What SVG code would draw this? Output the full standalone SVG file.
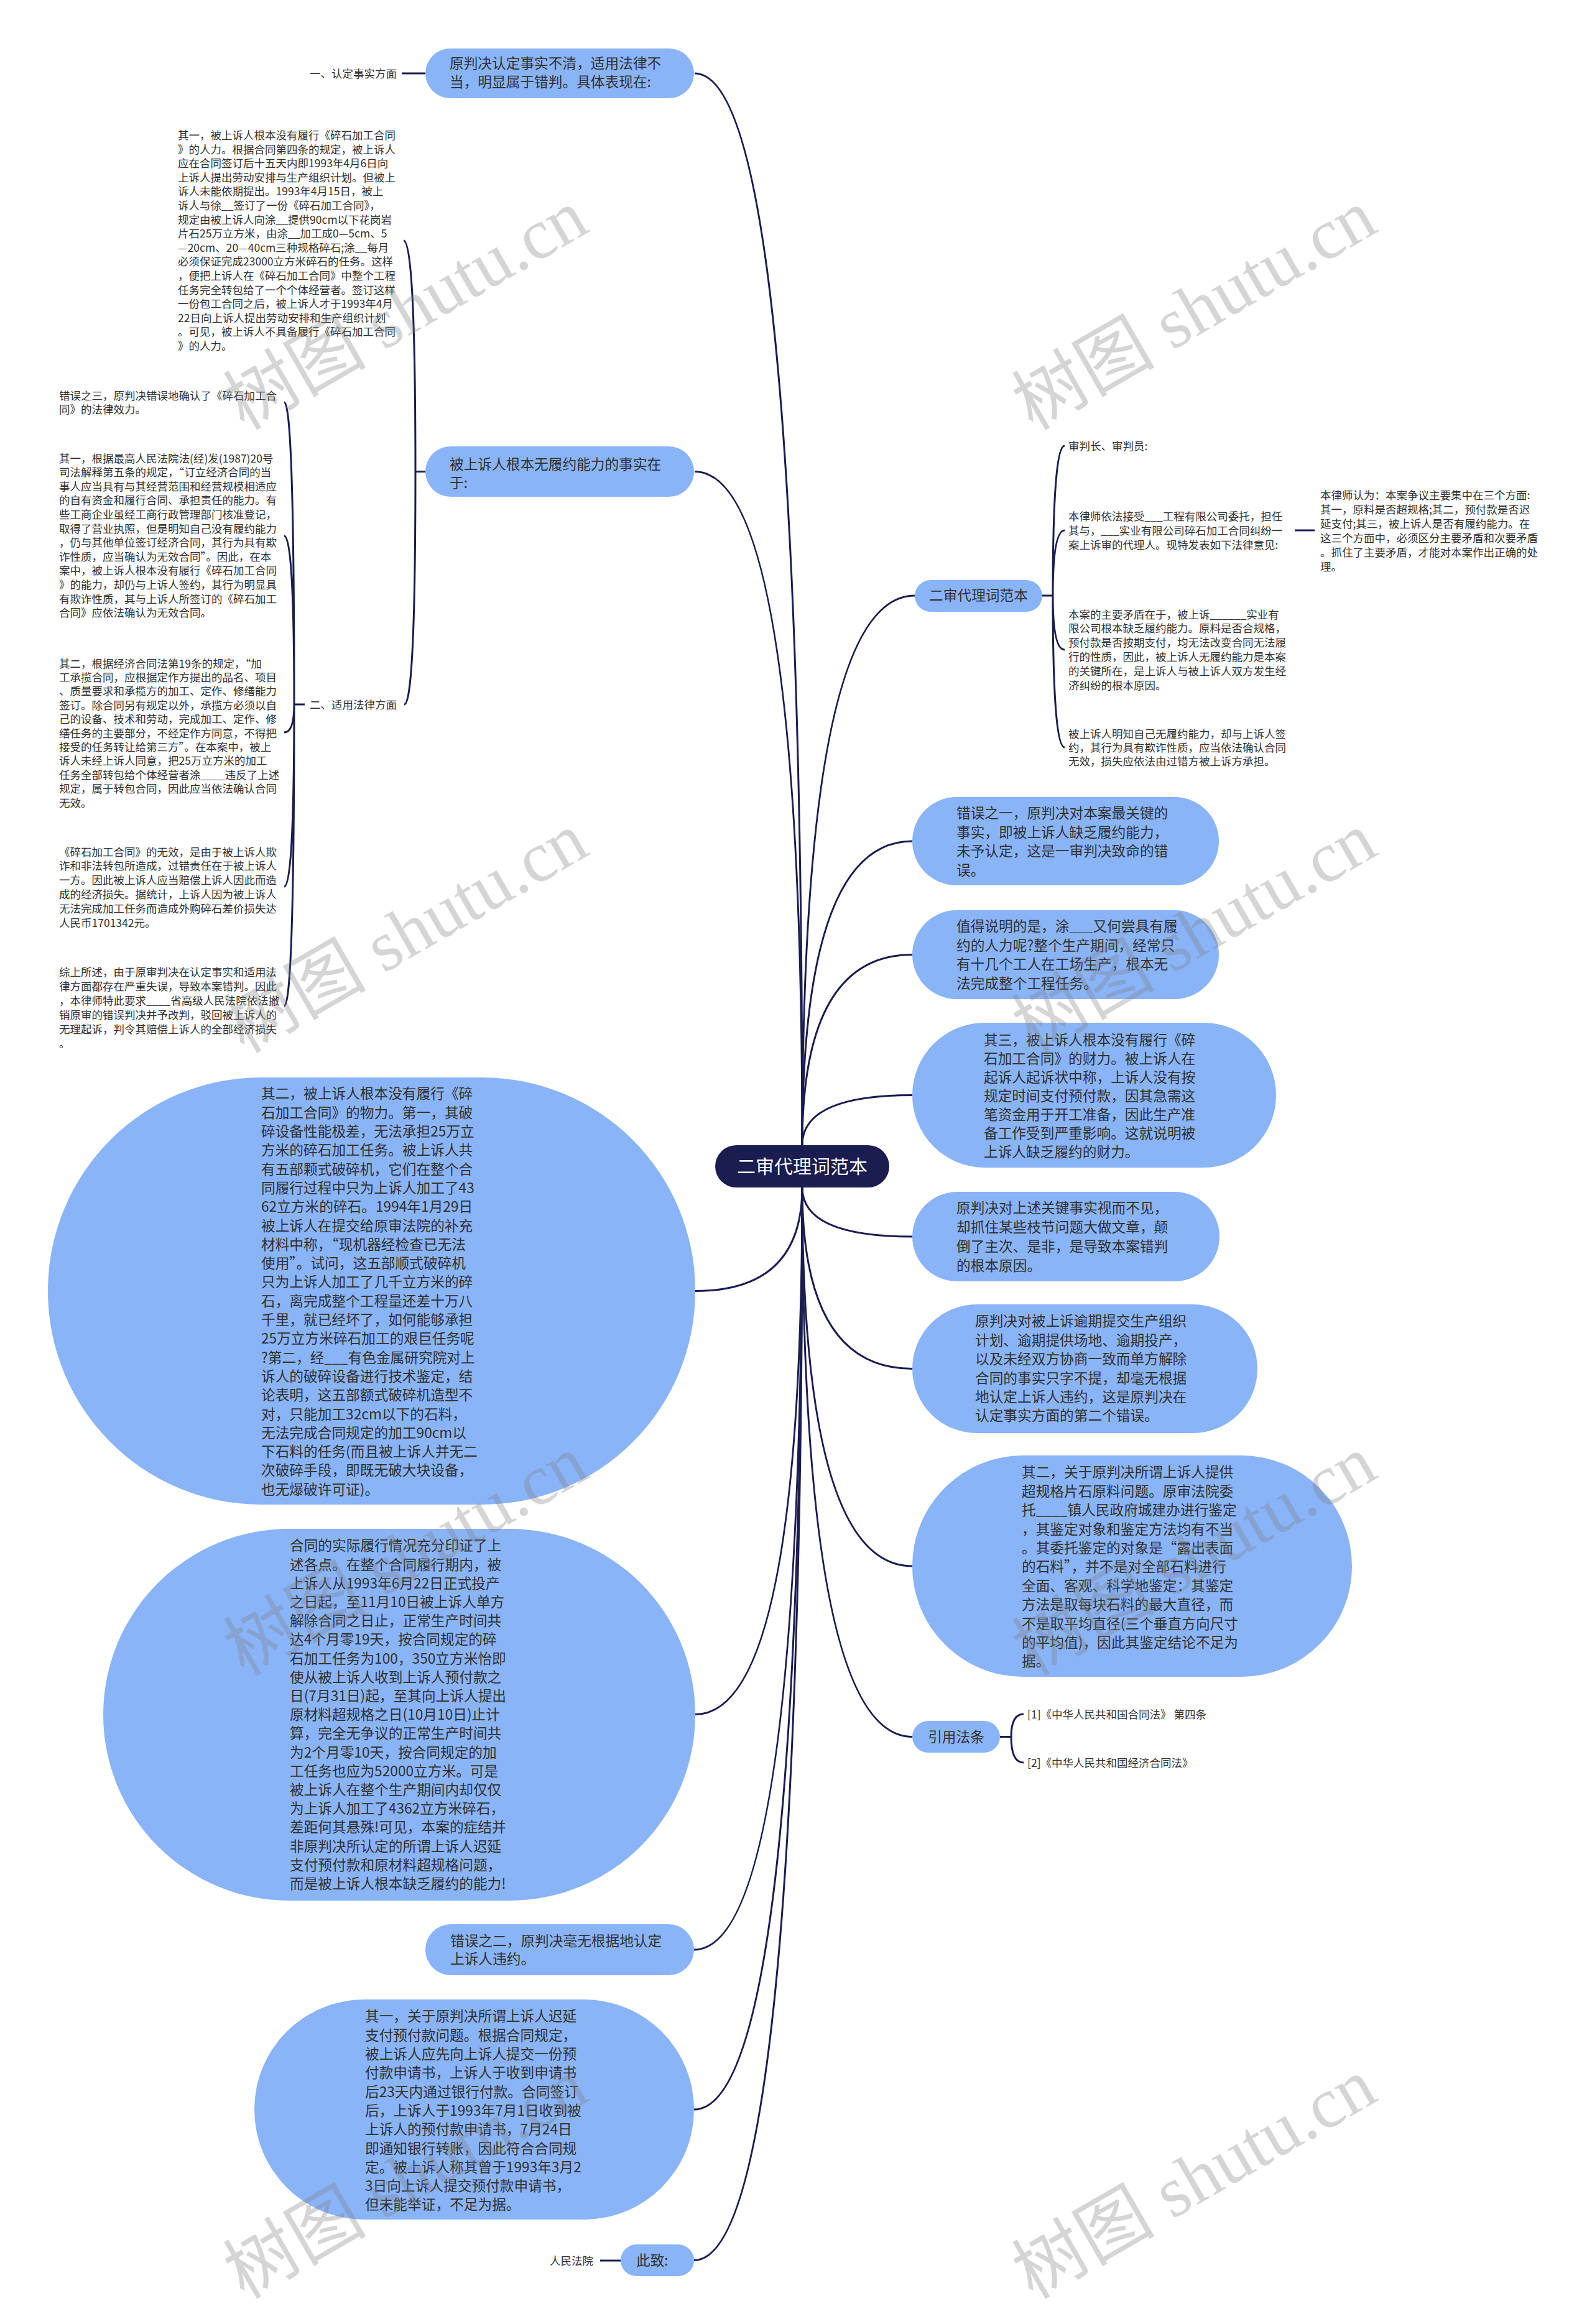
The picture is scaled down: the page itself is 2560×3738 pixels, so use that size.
<svg xmlns="http://www.w3.org/2000/svg" width="2560" height="3738" viewBox="0 0 2560 3738">
<style>
.c{fill:none;stroke:#1b1c50;stroke-width:3}
.n{fill:#8ab4f8}
.root{fill:#1b1c50}
.nt{font-family:"Noto Sans CJK SC","Liberation Sans",sans-serif;font-size:22.7px;fill:#303030}
.lt{font-family:"Noto Sans CJK SC","Liberation Sans",sans-serif;font-size:17.5px;fill:#303030}
.rt{font-family:"Noto Sans CJK SC","Liberation Sans",sans-serif;font-size:30px;fill:#ffffff}
.wm{font-family:"Liberation Serif","Noto Sans CJK SC",serif;font-size:115px;fill:#808080;fill-opacity:0.33}
</style>
<rect width="2560" height="3738" fill="#ffffff"/>
<g id="connectors">
<path class="c" d="M1290 1842 Q1290 118 1117 118"/>
<path class="c" d="M1290 1842 Q1290 758.5 1117 758.5"/>
<path class="c" d="M1290 1842 Q1290 958 1471 958"/>
<path class="c" d="M1290 1842 Q1290 1353 1467 1353"/>
<path class="c" d="M1290 1842 Q1290 1535.5 1467 1535.5"/>
<path class="c" d="M1290 1842 Q1290 1761.5 1467 1761.5"/>
<path class="c" d="M1290 1910 Q1290 1989 1467 1989"/>
<path class="c" d="M1290 1910 Q1290 2201.5 1467 2201.5"/>
<path class="c" d="M1290 1910 Q1290 2519 1467 2519"/>
<path class="c" d="M1290 1910 Q1290 2793.5 1467 2793.5"/>
<path class="c" d="M1290 1910 Q1290 2076.5 1118 2076.5"/>
<path class="c" d="M1290 1910 Q1290 2757.5 1118 2757.5"/>
<path class="c" d="M1290 1910 Q1290 3136 1116 3136"/>
<path class="c" d="M1290 1910 Q1290 3393 1116 3393"/>
<path class="c" d="M1290 1910 Q1290 3635.5 1116 3635.5"/>
<path class="c" d="M684 118 L646 118"/>
<path class="c" d="M684 758.5 L668 758.5 M668 758.5 Q668 387 649 387 M668 758.5 Q668 1133 650 1133"/>
<path class="c" d="M490 1133 L473 1133 M473 1133 Q473 647 457 647 M473 1133 Q473 862 457 862 M473 1133 Q473 1178 457 1178 M473 1133 Q473 1426 457 1426 M473 1133 Q473 1618 457 1618"/>
<path class="c" d="M1676 958 L1693 958 M1693 958 Q1693 717 1712 717 M1693 958 Q1693 853 1712 853 M1693 958 Q1693 1045 1712 1045 M1693 958 Q1693 1202 1712 1202"/>
<path class="c" d="M2082 853 L2114 853"/>
<path class="c" d="M1608 2793.5 L1626 2793.5 M1626 2793.5 Q1626 2757 1646 2757 M1626 2793.5 Q1626 2835 1646 2835"/>
<path class="c" d="M998 3636 L965 3636"/>
</g>
<g id="root">
<rect class="root" x="1150" y="1842" width="280" height="68" rx="34"/>
<text class="rt" x="1290" y="1887" text-anchor="middle">二审代理词范本</text>
</g>
<g id="node1">
<rect class="n" x="684" y="78" width="432" height="80" rx="40"/>
<text class="nt"><tspan x="723" y="110.4">原判决认定事实不清，适用法律不</tspan><tspan x="723" y="140.4">当，明显属于错判。具体表现在:</tspan></text>
</g>
<g id="leaf-1a">
<text class="lt" x="638" y="124.5" text-anchor="end">一、认定事实方面</text>
</g>
<g id="node2">
<rect class="n" x="684" y="718" width="432" height="81" rx="40.5"/>
<text class="nt"><tspan x="723" y="755.4">被上诉人根本无履约能力的事实在</tspan><tspan x="723" y="785.4">于:</tspan></text>
</g>
<g id="leaf-2a">
<text class="lt">
<tspan x="286" y="224">其一，被上诉人根本没有履行《碎石加工合同</tspan>
<tspan x="286" y="246.6">》的人力。根据合同第四条的规定，被上诉人</tspan>
<tspan x="286" y="269.2">应在合同签订后十五天内即1993年4月6日向</tspan>
<tspan x="286" y="291.8">上诉人提出劳动安排与生产组织计划。但被上</tspan>
<tspan x="286" y="314.4">诉人未能依期提出。1993年4月15日，被上</tspan>
<tspan x="286" y="337">诉人与徐__签订了一份《碎石加工合同》，</tspan>
<tspan x="286" y="359.6">规定由被上诉人向涂__提供90cm以下花岗岩</tspan>
<tspan x="286" y="382.2">片石25万立方米，由涂__加工成0—5cm、5</tspan>
<tspan x="286" y="404.8">—20cm、20—40cm三种规格碎石;涂__每月</tspan>
<tspan x="286" y="427.4">必须保证完成23000立方米碎石的任务。这样</tspan>
<tspan x="286" y="450">，便把上诉人在《碎石加工合同》中整个工程</tspan>
<tspan x="286" y="472.6">任务完全转包给了一个个体经营者。签订这样</tspan>
<tspan x="286" y="495.2">一份包工合同之后，被上诉人才于1993年4月</tspan>
<tspan x="286" y="517.8">22日向上诉人提出劳动安排和生产组织计划</tspan>
<tspan x="286" y="540.4">。可见，被上诉人不具备履行《碎石加工合同</tspan>
<tspan x="286" y="563">》的人力。</tspan>
</text>
</g>
<g id="leaf-2b">
<text class="lt" x="638" y="1139.5" text-anchor="end">二、适用法律方面</text>
</g>
<g id="leaf-2b1">
<text class="lt"><tspan x="95" y="642.5">错误之三，原判决错误地确认了《碎石加工合</tspan><tspan x="95" y="665.1">同》的法律效力。</tspan></text>
</g>
<g id="leaf-2b2">
<text class="lt">
<tspan x="95" y="743.5">其一，根据最高人民法院法(经)发(1987)20号</tspan>
<tspan x="95" y="766.1">司法解释第五条的规定，“订立经济合同的当</tspan>
<tspan x="95" y="788.7">事人应当具有与其经营范围和经营规模相适应</tspan>
<tspan x="95" y="811.3">的自有资金和履行合同、承担责任的能力。有</tspan>
<tspan x="95" y="833.9">些工商企业虽经工商行政管理部门核准登记，</tspan>
<tspan x="95" y="856.5">取得了营业执照，但是明知自己没有履约能力</tspan>
<tspan x="95" y="879.1">，仍与其他单位签订经济合同，其行为具有欺</tspan>
<tspan x="95" y="901.7">诈性质，应当确认为无效合同”。因此，在本</tspan>
<tspan x="95" y="924.3">案中，被上诉人根本没有履行《碎石加工合同</tspan>
<tspan x="95" y="946.9">》的能力，却仍与上诉人签约，其行为明显具</tspan>
<tspan x="95" y="969.5">有欺诈性质，其与上诉人所签订的《碎石加工</tspan>
<tspan x="95" y="992.1">合同》应依法确认为无效合同。</tspan>
</text>
</g>
<g id="leaf-2b3">
<text class="lt">
<tspan x="95" y="1073.5">其二，根据经济合同法第19条的规定，“加</tspan>
<tspan x="95" y="1095.9">工承揽合同，应根据定作方提出的品名、项目</tspan>
<tspan x="95" y="1118.3">、质量要求和承揽方的加工、定作、修缮能力</tspan>
<tspan x="95" y="1140.7">签订。除合同另有规定以外，承揽方必须以自</tspan>
<tspan x="95" y="1163.1">己的设备、技术和劳动，完成加工、定作、修</tspan>
<tspan x="95" y="1185.5">缮任务的主要部分，不经定作方同意，不得把</tspan>
<tspan x="95" y="1207.9">接受的任务转让给第三方”。在本案中，被上</tspan>
<tspan x="95" y="1230.3">诉人未经上诉人同意，把25万立方米的加工</tspan>
<tspan x="95" y="1252.7">任务全部转包给个体经营者涂____违反了上述</tspan>
<tspan x="95" y="1275.1">规定，属于转包合同，因此应当依法确认合同</tspan>
<tspan x="95" y="1297.5">无效。</tspan>
</text>
</g>
<g id="leaf-2b4">
<text class="lt">
<tspan x="95" y="1376.5">《碎石加工合同》的无效，是由于被上诉人欺</tspan>
<tspan x="95" y="1399.3">诈和非法转包所造成，过错责任在于被上诉人</tspan>
<tspan x="95" y="1422.1">一方。因此被上诉人应当赔偿上诉人因此而造</tspan>
<tspan x="95" y="1444.9">成的经济损失。据统计，上诉人因为被上诉人</tspan>
<tspan x="95" y="1467.7">无法完成加工任务而造成外购碎石差价损失达</tspan>
<tspan x="95" y="1490.5">人民币1701342元。</tspan>
</text>
</g>
<g id="leaf-2b5">
<text class="lt">
<tspan x="95" y="1569.5">综上所述，由于原审判决在认定事实和适用法</tspan>
<tspan x="95" y="1592.5">律方面都存在严重失误，导致本案错判。因此</tspan>
<tspan x="95" y="1615.5">，本律师特此要求____省高级人民法院依法撤</tspan>
<tspan x="95" y="1638.5">销原审的错误判决并予改判，驳回被上诉人的</tspan>
<tspan x="95" y="1661.5">无理起诉，判令其赔偿上诉人的全部经济损失</tspan>
<tspan x="95" y="1684.5">。</tspan>
</text>
</g>
<g id="nodeA">
<rect class="n" x="1471" y="933" width="205" height="51" rx="25.5"/>
<text class="nt" x="1573.5" y="966.4" text-anchor="middle">二审代理词范本</text>
</g>
<g id="leaf-A1"><text class="lt" x="1718" y="723.5">审判长、审判员:</text></g>
<g id="leaf-A2">
<text class="lt"><tspan x="1718" y="836.5">本律师依法接受___工程有限公司委托，担任</tspan><tspan x="1718" y="859.5">其与，___实业有限公司碎石加工合同纠纷一</tspan><tspan x="1718" y="882.5">案上诉审的代理人。现特发表如下法律意见:</tspan></text>
</g>
<g id="leaf-A2a">
<text class="lt">
<tspan x="2123" y="802.5">本律师认为：本案争议主要集中在三个方面:</tspan>
<tspan x="2123" y="825.5">其一，原料是否超规格;其二，预付款是否迟</tspan>
<tspan x="2123" y="848.5">延支付;其三，被上诉人是否有履约能力。在</tspan>
<tspan x="2123" y="871.5">这三个方面中，必须区分主要矛盾和次要矛盾</tspan>
<tspan x="2123" y="894.5">。抓住了主要矛盾，才能对本案作出正确的处</tspan>
<tspan x="2123" y="917.5">理。</tspan>
</text>
</g>
<g id="leaf-A3">
<text class="lt">
<tspan x="1718" y="994.5">本案的主要矛盾在于，被上诉______实业有</tspan>
<tspan x="1718" y="1017.3">限公司根本缺乏履约能力。原料是否合规格，</tspan>
<tspan x="1718" y="1040.1">预付款是否按期支付，均无法改变合同无法履</tspan>
<tspan x="1718" y="1062.9">行的性质，因此，被上诉人无履约能力是本案</tspan>
<tspan x="1718" y="1085.7">的关键所在，是上诉人与被上诉人双方发生经</tspan>
<tspan x="1718" y="1108.5">济纠纷的根本原因。</tspan>
</text>
</g>
<g id="leaf-A4">
<text class="lt"><tspan x="1718" y="1186.5">被上诉人明知自己无履约能力，却与上诉人签</tspan><tspan x="1718" y="1208.5">约，其行为具有欺诈性质，应当依法确认合同</tspan><tspan x="1718" y="1230.5">无效，损失应依法由过错方被上诉方承担。</tspan></text>
</g>
<g id="nodeB">
<rect class="n" x="1467" y="1282" width="493" height="142" rx="71"/>
<text class="nt"><tspan x="1538" y="1316.4">错误之一，原判决对本案最关键的</tspan><tspan x="1538" y="1346.9">事实，即被上诉人缺乏履约能力，</tspan><tspan x="1538" y="1377.4">未予认定，这是一审判决致命的错</tspan><tspan x="1538" y="1407.9">误。</tspan></text>
</g>
<g id="nodeC">
<rect class="n" x="1467" y="1464" width="493" height="143" rx="71.5"/>
<text class="nt"><tspan x="1538" y="1498.4">值得说明的是，涂___又何尝具有履</tspan><tspan x="1538" y="1528.9">约的人力呢?整个生产期间，经常只</tspan><tspan x="1538" y="1559.4">有十几个工人在工场生产，根本无</tspan><tspan x="1538" y="1589.9">法完成整个工程任务。</tspan></text>
</g>
<g id="nodeD">
<rect class="n" x="1467" y="1645" width="585" height="233" rx="116.5"/>
<text class="nt">
<tspan x="1582" y="1681.4">其三，被上诉人根本没有履行《碎</tspan>
<tspan x="1582" y="1711.4">石加工合同》的财力。被上诉人在</tspan>
<tspan x="1582" y="1741.4">起诉人起诉状中称，上诉人没有按</tspan>
<tspan x="1582" y="1771.4">规定时间支付预付款，因其急需这</tspan>
<tspan x="1582" y="1801.4">笔资金用于开工准备，因此生产准</tspan>
<tspan x="1582" y="1831.4">备工作受到严重影响。这就说明被</tspan>
<tspan x="1582" y="1861.4">上诉人缺乏履约的财力。</tspan>
</text>
</g>
<g id="nodeE">
<rect class="n" x="1467" y="1917" width="494" height="144" rx="72"/>
<text class="nt"><tspan x="1538" y="1951.4">原判决对上述关键事实视而不见，</tspan><tspan x="1538" y="1982.1">却抓住某些枝节问题大做文章，颠</tspan><tspan x="1538" y="2012.8">倒了主次、是非，是导致本案错判</tspan><tspan x="1538" y="2043.5">的根本原因。</tspan></text>
</g>
<g id="nodeF">
<rect class="n" x="1467" y="2098" width="555" height="207" rx="103.5"/>
<text class="nt">
<tspan x="1568" y="2133.4">原判决对被上诉逾期提交生产组织</tspan>
<tspan x="1568" y="2163.8">计划、逾期提供场地、逾期投产，</tspan>
<tspan x="1568" y="2194.2">以及未经双方协商一致而单方解除</tspan>
<tspan x="1568" y="2224.6">合同的事实只字不提，却毫无根据</tspan>
<tspan x="1568" y="2255">地认定上诉人违约，这是原判决在</tspan>
<tspan x="1568" y="2285.4">认定事实方面的第二个错误。</tspan>
</text>
</g>
<g id="nodeG">
<rect class="n" x="1467" y="2341" width="707" height="356" rx="178"/>
<text class="nt">
<tspan x="1643" y="2376.4">其二，关于原判决所谓上诉人提供</tspan>
<tspan x="1643" y="2406.8">超规格片石原料问题。原审法院委</tspan>
<tspan x="1643" y="2437.2">托____镇人民政府城建办进行鉴定</tspan>
<tspan x="1643" y="2467.6">，其鉴定对象和鉴定方法均有不当</tspan>
<tspan x="1643" y="2498">。其委托鉴定的对象是“露出表面</tspan>
<tspan x="1643" y="2528.4">的石料”，并不是对全部石料进行</tspan>
<tspan x="1643" y="2558.8">全面、客观、科学地鉴定：其鉴定</tspan>
<tspan x="1643" y="2589.2">方法是取每块石料的最大直径，而</tspan>
<tspan x="1643" y="2619.6">不是取平均直径(三个垂直方向尺寸</tspan>
<tspan x="1643" y="2650">的平均值)，因此其鉴定结论不足为</tspan>
<tspan x="1643" y="2680.4">据。</tspan>
</text>
</g>
<g id="nodeH">
<rect class="n" x="1467" y="2768" width="141" height="51" rx="25.5"/>
<text class="nt" x="1537.5" y="2801.9" text-anchor="middle">引用法条</text>
</g>
<g id="leaf-H1"><text class="lt" x="1652" y="2763.5">[1]《中华人民共和国合同法》 第四条</text></g>
<g id="leaf-H2"><text class="lt" x="1652" y="2841.5">[2]《中华人民共和国经济合同法》</text></g>
<g id="nodeI">
<rect class="n" x="77" y="1733" width="1041" height="687" rx="343"/>
<text class="nt">
<tspan x="420" y="1767.4">其二，被上诉人根本没有履行《碎</tspan>
<tspan x="420" y="1797.7">石加工合同》的物力。第一，其破</tspan>
<tspan x="420" y="1828">碎设备性能极差，无法承担25万立</tspan>
<tspan x="420" y="1858.3">方米的碎石加工任务。被上诉人共</tspan>
<tspan x="420" y="1888.6">有五部颗式破碎机，它们在整个合</tspan>
<tspan x="420" y="1918.9">同履行过程中只为上诉人加工了43</tspan>
<tspan x="420" y="1949.2">62立方米的碎石。1994年1月29日</tspan>
<tspan x="420" y="1979.5">被上诉人在提交给原审法院的补充</tspan>
<tspan x="420" y="2009.8">材料中称，“现机器经检查已无法</tspan>
<tspan x="420" y="2040.1">使用”。试问，这五部顺式破碎机</tspan>
<tspan x="420" y="2070.4">只为上诉人加工了几千立方米的碎</tspan>
<tspan x="420" y="2100.7">石，离完成整个工程量还差十万八</tspan>
<tspan x="420" y="2131">千里，就已经坏了，如何能够承担</tspan>
<tspan x="420" y="2161.3">25万立方米碎石加工的艰巨任务呢</tspan>
<tspan x="420" y="2191.6">?第二，经___有色金属研究院对上</tspan>
<tspan x="420" y="2221.9">诉人的破碎设备进行技术鉴定，结</tspan>
<tspan x="420" y="2252.2">论表明，这五部额式破碎机造型不</tspan>
<tspan x="420" y="2282.5">对，只能加工32cm以下的石料，</tspan>
<tspan x="420" y="2312.8">无法完成合同规定的加工90cm以</tspan>
<tspan x="420" y="2343.1">下石料的任务(而且被上诉人并无二</tspan>
<tspan x="420" y="2373.4">次破碎手段，即既无破大块设备，</tspan>
<tspan x="420" y="2403.7">也无爆破许可证)。</tspan>
</text>
</g>
<g id="nodeJ">
<rect class="n" x="166" y="2459" width="952" height="598" rx="299"/>
<text class="nt">
<tspan x="466" y="2494.4">合同的实际履行情况充分印证了上</tspan>
<tspan x="466" y="2524.6">述各点。在整个合同履行期内，被</tspan>
<tspan x="466" y="2554.8">上诉人从1993年6月22日正式投产</tspan>
<tspan x="466" y="2585">之日起，至11月10日被上诉人单方</tspan>
<tspan x="466" y="2615.2">解除合同之日止，正常生产时间共</tspan>
<tspan x="466" y="2645.4">达4个月零19天，按合同规定的碎</tspan>
<tspan x="466" y="2675.6">石加工任务为100，350立方米怡即</tspan>
<tspan x="466" y="2705.8">使从被上诉人收到上诉人预付款之</tspan>
<tspan x="466" y="2736">日(7月31日)起，至其向上诉人提出</tspan>
<tspan x="466" y="2766.2">原材料超规格之日(10月10日)止计</tspan>
<tspan x="466" y="2796.4">算，完全无争议的正常生产时间共</tspan>
<tspan x="466" y="2826.6">为2个月零10天，按合同规定的加</tspan>
<tspan x="466" y="2856.8">工任务也应为52000立方米。可是</tspan>
<tspan x="466" y="2887">被上诉人在整个生产期间内却仅仅</tspan>
<tspan x="466" y="2917.2">为上诉人加工了4362立方米碎石，</tspan>
<tspan x="466" y="2947.4">差距何其悬殊!可见，本案的症结并</tspan>
<tspan x="466" y="2977.6">非原判决所认定的所谓上诉人迟延</tspan>
<tspan x="466" y="3007.8">支付预付款和原材料超规格问题，</tspan>
<tspan x="466" y="3038">而是被上诉人根本缺乏履约的能力!</tspan>
</text>
</g>
<g id="nodeK">
<rect class="n" x="684" y="3095" width="432" height="82" rx="41"/>
<text class="nt"><tspan x="724" y="3130.4">错误之二，原判决毫无根据地认定</tspan><tspan x="724" y="3159.4">上诉人违约。</tspan></text>
</g>
<g id="nodeL">
<rect class="n" x="409" y="3216" width="707" height="354" rx="177"/>
<text class="nt">
<tspan x="587" y="3251.4">其一，关于原判决所谓上诉人迟延</tspan>
<tspan x="587" y="3281.7">支付预付款问题。根据合同规定，</tspan>
<tspan x="587" y="3312">被上诉人应先向上诉人提交一份预</tspan>
<tspan x="587" y="3342.3">付款申请书，上诉人于收到申请书</tspan>
<tspan x="587" y="3372.6">后23天内通过银行付款。合同签订</tspan>
<tspan x="587" y="3402.9">后，上诉人于1993年7月1日收到被</tspan>
<tspan x="587" y="3433.2">上诉人的预付款申请书，7月24日</tspan>
<tspan x="587" y="3463.5">即通知银行转账，因此符合合同规</tspan>
<tspan x="587" y="3493.8">定。被上诉人称其曾于1993年3月2</tspan>
<tspan x="587" y="3524.1">3日向上诉人提交预付款申请书，</tspan>
<tspan x="587" y="3554.4">但未能举证，不足为据。</tspan>
</text>
</g>
<g id="nodeM">
<rect class="n" x="998" y="3610" width="118" height="51" rx="25.5"/>
<text class="nt" x="1023" y="3644.4">此致:</text>
</g>
<g id="leaf-M1"><text class="lt" x="954" y="3642.5" text-anchor="end">人民法院</text></g>
<g id="watermarks">
<text class="wm" text-anchor="middle" transform="translate(672 532) rotate(-30)">树图 shutu.cn</text>
<text class="wm" text-anchor="middle" transform="translate(1940 532) rotate(-30)">树图 shutu.cn</text>
<text class="wm" text-anchor="middle" transform="translate(672 1534) rotate(-30)">树图 shutu.cn</text>
<text class="wm" text-anchor="middle" transform="translate(1940 1534) rotate(-30)">树图 shutu.cn</text>
<text class="wm" text-anchor="middle" transform="translate(672 2536) rotate(-30)">树图 shutu.cn</text>
<text class="wm" text-anchor="middle" transform="translate(1940 2536) rotate(-30)">树图 shutu.cn</text>
<text class="wm" text-anchor="middle" transform="translate(672 3538) rotate(-30)">树图 shutu.cn</text>
<text class="wm" text-anchor="middle" transform="translate(1940 3538) rotate(-30)">树图 shutu.cn</text>
</g>
</svg>
